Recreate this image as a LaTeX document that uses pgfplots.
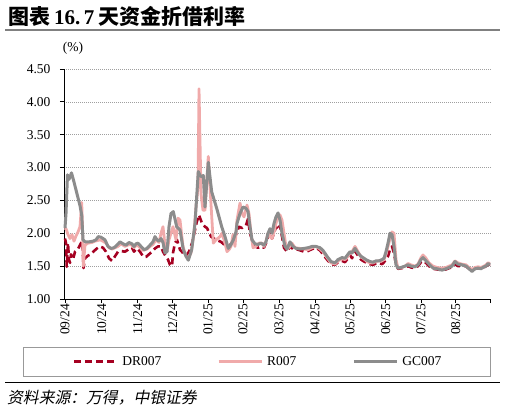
\documentclass[border=0pt]{standalone}
\usepackage{fontspec}
\setmainfont{Liberation Serif}
\newfontfamily\cjk{Noto Sans CJK SC}
\newfontfamily\cjkit{Noto Sans CJK SC}[FakeSlant=0.2]
\usepackage{pgfplots}
\pgfplotsset{compat=1.18}
\definecolor{drred}{HTML}{A50021}
\definecolor{rpink}{HTML}{F0AAAA}
\definecolor{gcgray}{HTML}{8C8C8C}
\begin{document}
\begin{tikzpicture}
\path[use as bounding box] (0bp,0bp) rectangle (513bp,411bp);
\node[anchor=west,inner sep=0pt] at (8bp,394.5bp) {\fontsize{21bp}{24bp}\selectfont{\cjk\bfseries 图表}\hspace{4bp}{\bfseries 16.\,7}\hspace{4bp}{\cjk\bfseries 天资金折借利率}};
\draw[line width=2.2bp, color=gray] (5bp,381bp) -- (500bp,381bp);
\node[inner sep=0pt] at (73bp,362.5bp) {\fontsize{13.5bp}{16bp}\selectfont (\%)};
\begin{axis}[
  at={(64bp,112bp)}, anchor=south west,
  scale only axis, width=426.7bp, height=230bp,
  xmin=-1, xmax=425.7, ymin=1, ymax=4.5,
  axis x line*=bottom, axis y line*=left,
  axis line style={black, line width=0.9bp},
  tick align=outside, major tick length=4bp,
  tick style={black, line width=0.8bp},
  ytick={1,1.5,2,2.5,3,3.5,4,4.5},
  yticklabel style={/pgf/number format/fixed, /pgf/number format/precision=2, /pgf/number format/fixed zerofill, xshift=-6bp},
  /pgf/number format/assume math mode=true,
  xtick={0,36.7,72.7,107.7,143,178,214,250,285,320.7,356,390.7,425.7},
  xticklabels={09/24,10/24,11/24,12/24,01/25,02/25,03/25,04/25,05/25,06/25,07/25,08/25,{}},
  xticklabel style={rotate=90, anchor=east, inner sep=1bp},
  ticklabel style={font=\fontsize{13.5bp}{16bp}\selectfont},
  ymajorgrids, major grid style={gray!75, dash pattern=on 1bp off 1bp, line width=0.7bp},
  legend style={at={(axis description cs:0.4523,-0.2726)}, anchor=center, draw=none, fill=none,
    font=\fontsize{13.5bp}{16bp}\selectfont, nodes={inner sep=0pt},
    /tikz/every odd column/.append style={column sep=4bp},
    /tikz/every even column/.append style={column sep=56bp}},
  legend columns=3, legend cell align=left,
  legend image code/.code={\draw[#1] (0bp,0bp) -- (43bp,0bp);},
  clip=false,
]
\addplot[drred, line width=2.6bp, dash pattern=on 7bp off 4bp, line join=round] coordinates {
(0,1.92)(1,1.85)(1.7,1.49)(2.3,1.65)(3,1.85)(4,1.60)(5,1.55)(6,1.68)(8,1.60)(10,1.72)(13,1.76)(16,1.85)(17.5,1.88)(18.5,1.47)(20,1.62)(23,1.66)(26,1.68)(29,1.73)(32,1.77)(35,1.80)(38,1.78)(41,1.72)(44,1.62)(47,1.58)(50,1.65)(53,1.72)(56,1.73)(60,1.72)(64,1.76)(67,1.78)(69,1.72)(72,1.77)(75,1.72)(78,1.65)(81,1.64)(84,1.68)(87,1.72)(90,1.77)(93,1.80)(96,1.80)(98,1.72)(100,1.67)(103,1.60)(105,1.52)(107,1.50)(108,1.70)(110,1.85)(112,1.90)(115,1.75)(118,1.70)(121,1.66)(124,1.72)(127,1.85)(130,2.05)(131.7,2.17)(134,2.28)(137,2.15)(140,2.10)(142,2.08)(146,1.95)(151,1.90)(156,1.87)(159,1.83)(161,1.80)(163,1.78)(165,1.82)(168,1.88)(171,1.98)(174,2.10)(177,2.08)(181,2.12)(183,2.22)(185,2.00)(187,1.90)(190,1.80)(193,1.78)(196,1.80)(199,1.78)(201,1.85)(203,1.95)(205,2.02)(207,1.92)(209,2.00)(211,2.10)(213,2.05)(215,2.12)(217,1.95)(219,1.78)(222,1.72)(225,1.80)(228,1.76)(231,1.76)(235,1.74)(239,1.72)(243,1.73)(247,1.76)(251,1.78)(255,1.74)(258,1.68)(262,1.60)(266,1.53)(270,1.52)(273,1.56)(277,1.58)(280,1.56)(283,1.62)(285,1.67)(287,1.62)(290,1.73)(293,1.66)(296,1.60)(299,1.57)(302,1.55)(305,1.53)(308,1.52)(311,1.54)(314,1.55)(317,1.53)(319,1.56)(321,1.60)(323,1.65)(325,1.75)(327,1.80)(329,1.70)(331,1.52)(333,1.46)(337,1.47)(340,1.48)(343,1.50)(346,1.48)(350,1.47)(353,1.50)(356,1.56)(358,1.58)(361,1.55)(364,1.50)(368,1.46)(372,1.45)(377,1.44)(381,1.45)(384,1.47)(387,1.48)(390,1.53)(393,1.50)(397,1.50)(401,1.50)(404,1.46)(407,1.44)(410,1.46)(413,1.47)(416,1.46)(419,1.48)(421,1.50)(423,1.52)(425,1.53)
};
\addlegendentry{DR007}
\addplot[rpink, line width=2.8bp, line join=round] coordinates {
(0,2.05)(1,2.07)(3,1.98)(5,1.92)(7,1.98)(9,1.88)(11,1.96)(13,2.02)(15,2.10)(16.7,2.47)(17.5,2.10)(18.3,1.50)(20,1.82)(23,1.85)(27,1.86)(30,1.88)(35,1.90)(38,1.88)(41,1.85)(44,1.78)(47,1.76)(50,1.78)(53,1.80)(56,1.84)(60,1.80)(64,1.83)(67,1.82)(69,1.78)(72,1.83)(75,1.78)(78,1.74)(82,1.76)(85,1.80)(88,1.83)(91,1.90)(94,1.86)(96,2.00)(98,2.10)(100,1.82)(102,1.72)(104,1.90)(106,2.00)(108,2.10)(111,1.90)(113,2.23)(115,2.20)(118,1.80)(121,1.65)(123,1.62)(126,1.70)(129,2.00)(131,2.40)(133,2.70)(134,4.20)(136,2.60)(138,2.35)(140,2.35)(143.3,3.17)(145,2.70)(148.3,1.85)(151,1.90)(155,1.95)(157,2.00)(160,1.85)(162,1.72)(164,1.75)(166,1.80)(168,1.98)(170,1.80)(172,2.20)(175,2.46)(177,2.30)(179,2.25)(182,2.43)(184,2.30)(186,2.00)(188,1.78)(191,1.80)(194,1.85)(197,1.85)(199,1.80)(201,1.88)(203,2.00)(205,1.95)(207,1.92)(209,2.02)(211,2.15)(213,2.25)(215,2.28)(217,2.20)(219,2.00)(221,1.80)(224,1.78)(227,1.85)(230,1.78)(235,1.77)(239,1.76)(243,1.75)(247,1.78)(251,1.80)(255,1.76)(258,1.72)(262,1.63)(266,1.55)(270,1.53)(273,1.58)(277,1.61)(280,1.60)(283,1.65)(285,1.70)(287,1.72)(290,1.80)(293,1.72)(296,1.64)(299,1.61)(302,1.57)(305,1.55)(308,1.55)(311,1.57)(314,1.58)(317,1.58)(319,1.60)(321,1.68)(323,1.80)(325,1.92)(327,2.02)(329,2.00)(331,1.60)(333,1.47)(337,1.48)(340,1.50)(343,1.54)(346,1.52)(350,1.50)(353,1.53)(356,1.63)(358,1.67)(361,1.62)(364,1.55)(368,1.50)(372,1.48)(377,1.47)(381,1.48)(384,1.50)(387,1.52)(390,1.58)(393,1.55)(397,1.53)(401,1.52)(404,1.48)(407,1.45)(410,1.48)(413,1.49)(416,1.48)(419,1.50)(421,1.52)(423,1.55)(425,1.54)
};
\addlegendentry{R007}
\addplot[gcgray, line width=3bp, line join=round] coordinates {
(0,2.08)(1,2.30)(2.5,2.89)(4,2.82)(6.5,2.92)(9,2.78)(12,2.60)(15,2.42)(16.7,2.28)(18,1.90)(20,1.87)(24,1.87)(28,1.88)(31,1.90)(33.3,1.95)(36,1.94)(40,1.90)(43,1.80)(46,1.77)(49,1.78)(52,1.82)(55,1.87)(58,1.84)(61,1.82)(64,1.86)(67,1.84)(69,1.80)(71,1.84)(73,1.85)(76,1.80)(79,1.75)(82,1.77)(85,1.82)(88,1.87)(90,1.95)(92,1.90)(94,1.88)(96,1.92)(98,1.86)(100,1.70)(102,1.72)(104,2.10)(106,2.30)(108.3,2.33)(111.7,2.10)(115,2.05)(118.3,1.75)(121,1.65)(123.3,1.59)(126.7,1.75)(130,2.15)(131.7,2.56)(133.3,2.94)(135,2.88)(136.7,2.86)(138.3,2.88)(140,2.40)(143.3,3.08)(146.7,2.63)(151.7,2.38)(156.7,2.10)(160,1.95)(163.3,1.77)(166,1.83)(168.3,1.90)(171,2.02)(172,2.15)(175,2.30)(178,2.40)(181,2.38)(183,2.33)(185,2.10)(187,1.90)(190,1.84)(193,1.83)(196,1.85)(199,1.82)(201,1.87)(203,2.00)(205,2.07)(207,2.00)(209,2.15)(211,2.25)(213,2.31)(215,2.20)(217,2.00)(220,1.80)(222,1.76)(225,1.87)(228,1.80)(231,1.77)(235,1.76)(239,1.77)(243,1.78)(247,1.80)(251,1.80)(255,1.78)(258,1.74)(262,1.65)(266,1.57)(270,1.55)(273,1.60)(277,1.63)(280,1.62)(283,1.68)(285,1.72)(287,1.70)(290,1.77)(293,1.70)(296,1.65)(299,1.62)(302,1.59)(305,1.57)(308,1.56)(311,1.58)(314,1.58)(317,1.60)(319,1.62)(321,1.72)(323,1.85)(325,2.00)(327,1.98)(329,1.80)(331,1.52)(333,1.47)(336,1.48)(340,1.50)(343,1.52)(346,1.50)(350,1.49)(353,1.52)(356,1.60)(358,1.63)(361,1.58)(364,1.53)(368,1.47)(372,1.46)(377,1.44)(381,1.46)(384,1.48)(387,1.50)(390,1.57)(393,1.53)(397,1.52)(401,1.50)(404,1.46)(407,1.42)(410,1.46)(413,1.47)(416,1.46)(419,1.49)(421,1.50)(423,1.54)(425,1.52)
};
\addlegendentry{GC007}
\end{axis}
\draw[color=gray!80, line width=0.8bp] (23.3bp,35bp) rectangle (490.7bp,63.3bp);
\draw[black, line width=1.2bp] (5bp,28.3bp) -- (500bp,28.3bp);
\node[anchor=west,inner sep=0pt] at (7bp,13bp) {\fontsize{15.8bp}{18bp}\selectfont\cjkit 资料来源：万得，中银证券};
\end{tikzpicture}
\end{document}
